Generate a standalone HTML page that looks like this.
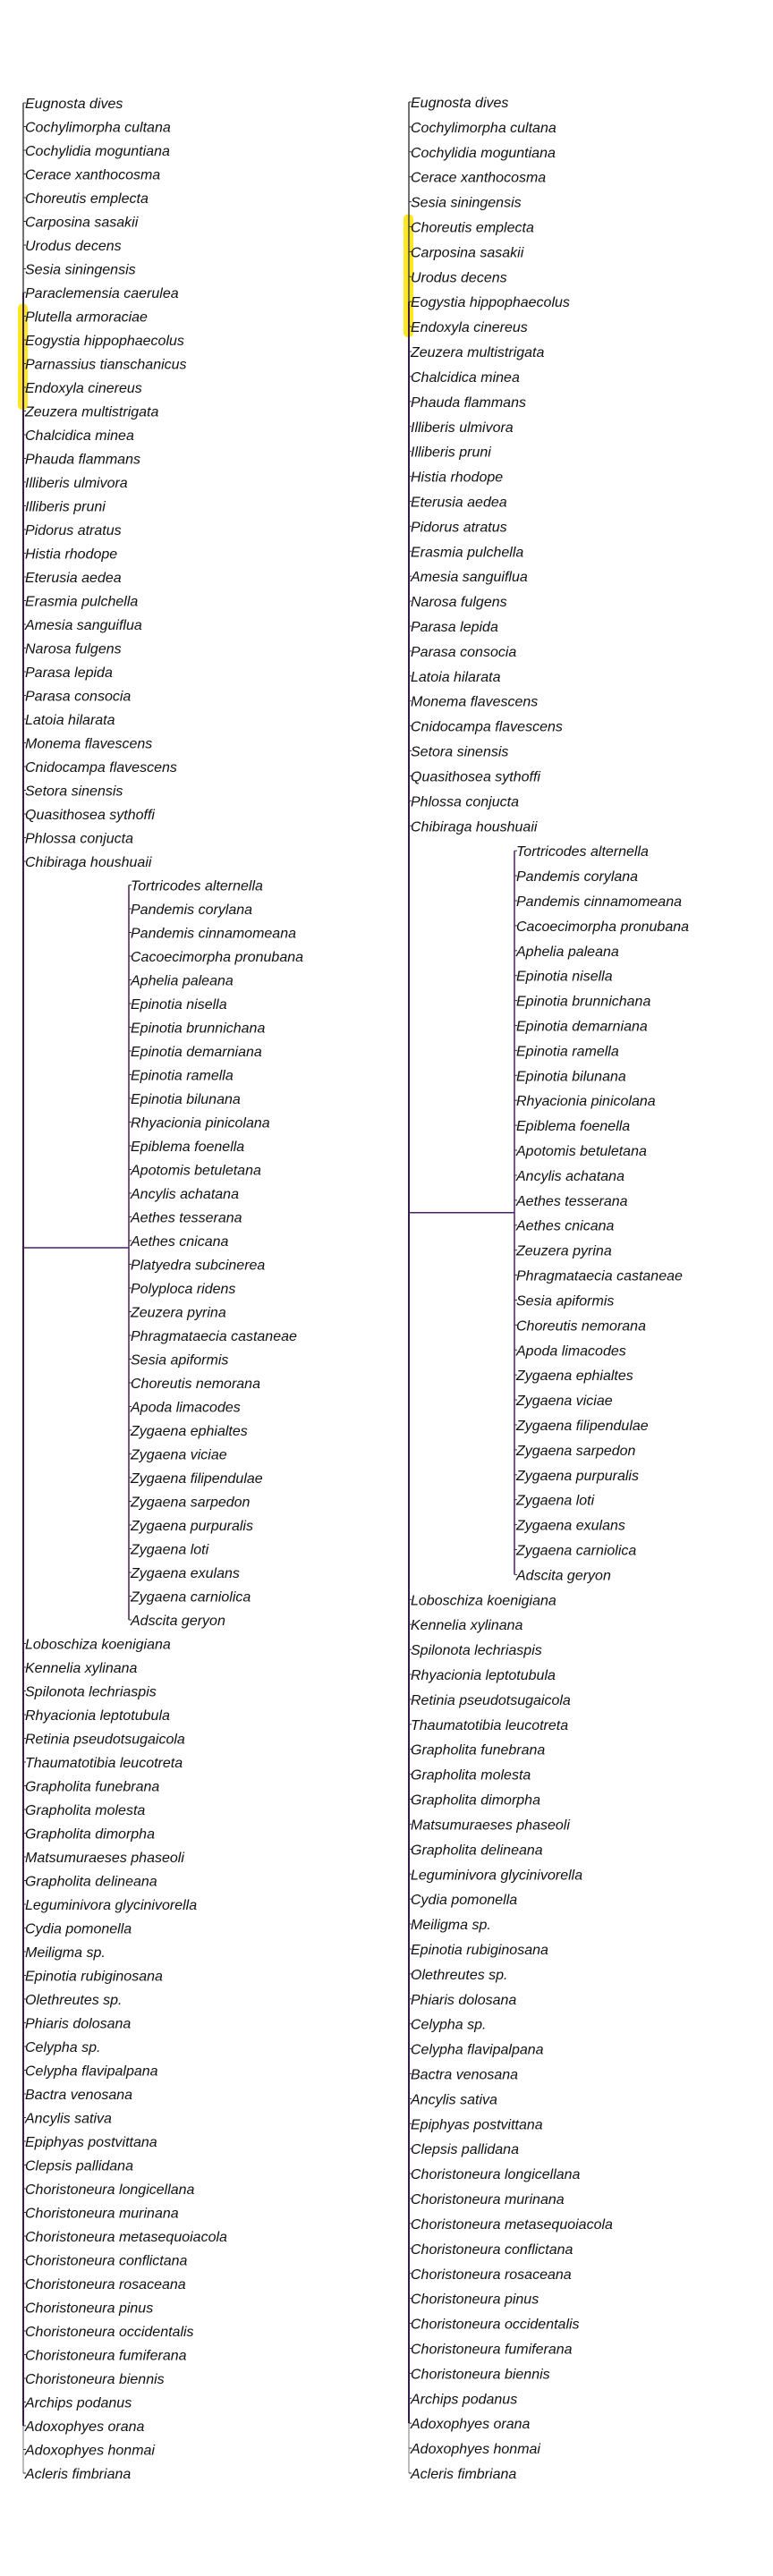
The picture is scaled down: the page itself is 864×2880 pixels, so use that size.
<!DOCTYPE html>
<html><head><meta charset="utf-8"><style>
html,body{margin:0;padding:0;background:#fff;}
svg{display:block;}
text{font-family:"Liberation Sans",sans-serif;font-style:italic;font-size:16px;fill:#111;}
</style></head><body>
<svg id="tree" width="864" height="2880" xmlns="http://www.w3.org/2000/svg"></svg>
<script>
const leftTop=["Eugnosta dives","Cochylimorpha cultana","Cochylidia moguntiana","Cerace xanthocosma","Choreutis emplecta","Carposina sasakii","Urodus decens","Sesia siningensis","Paraclemensia caerulea","Plutella armoraciae","Eogystia hippophaecolus","Parnassius tianschanicus","Endoxyla cinereus","Zeuzera multistrigata","Chalcidica minea","Phauda flammans","Illiberis ulmivora","Illiberis pruni","Pidorus atratus","Histia rhodope","Eterusia aedea","Erasmia pulchella","Amesia sanguiflua","Narosa fulgens","Parasa lepida","Parasa consocia","Latoia hilarata","Monema flavescens","Cnidocampa flavescens","Setora sinensis","Quasithosea sythoffi","Phlossa conjucta","Chibiraga houshuaii"];
const leftMid=["Tortricodes alternella","Pandemis corylana","Pandemis cinnamomeana","Cacoecimorpha pronubana","Aphelia paleana","Epinotia nisella","Epinotia brunnichana","Epinotia demarniana","Epinotia ramella","Epinotia bilunana","Rhyacionia pinicolana","Epiblema foenella","Apotomis betuletana","Ancylis achatana","Aethes tesserana","Aethes cnicana","Platyedra subcinerea","Polyploca ridens","Zeuzera pyrina","Phragmataecia castaneae","Sesia apiformis","Choreutis nemorana","Apoda limacodes","Zygaena ephialtes","Zygaena viciae","Zygaena filipendulae","Zygaena sarpedon","Zygaena purpuralis","Zygaena loti","Zygaena exulans","Zygaena carniolica","Adscita geryon"];
const bottom=["Loboschiza koenigiana","Kennelia xylinana","Spilonota lechriaspis","Rhyacionia leptotubula","Retinia pseudotsugaicola","Thaumatotibia leucotreta","Grapholita funebrana","Grapholita molesta","Grapholita dimorpha","Matsumuraeses phaseoli","Grapholita delineana","Leguminivora glycinivorella","Cydia pomonella","Meiligma sp.","Epinotia rubiginosana","Olethreutes sp.","Phiaris dolosana","Celypha sp.","Celypha flavipalpana","Bactra venosana","Ancylis sativa","Epiphyas postvittana","Clepsis pallidana","Choristoneura longicellana","Choristoneura murinana","Choristoneura metasequoiacola","Choristoneura conflictana","Choristoneura rosaceana","Choristoneura pinus","Choristoneura occidentalis","Choristoneura fumiferana","Choristoneura biennis","Archips podanus","Adoxophyes orana","Adoxophyes honmai","Acleris fimbriana"];
const rightTop=["Eugnosta dives","Cochylimorpha cultana","Cochylidia moguntiana","Cerace xanthocosma","Sesia siningensis","Choreutis emplecta","Carposina sasakii","Urodus decens","Eogystia hippophaecolus","Endoxyla cinereus","Zeuzera multistrigata","Chalcidica minea","Phauda flammans","Illiberis ulmivora","Illiberis pruni","Histia rhodope","Eterusia aedea","Pidorus atratus","Erasmia pulchella","Amesia sanguiflua","Narosa fulgens","Parasa lepida","Parasa consocia","Latoia hilarata","Monema flavescens","Cnidocampa flavescens","Setora sinensis","Quasithosea sythoffi","Phlossa conjucta","Chibiraga houshuaii"];
const rightMid=["Tortricodes alternella","Pandemis corylana","Pandemis cinnamomeana","Cacoecimorpha pronubana","Aphelia paleana","Epinotia nisella","Epinotia brunnichana","Epinotia demarniana","Epinotia ramella","Epinotia bilunana","Rhyacionia pinicolana","Epiblema foenella","Apotomis betuletana","Ancylis achatana","Aethes tesserana","Aethes cnicana","Zeuzera pyrina","Phragmataecia castaneae","Sesia apiformis","Choreutis nemorana","Apoda limacodes","Zygaena ephialtes","Zygaena viciae","Zygaena filipendulae","Zygaena sarpedon","Zygaena purpuralis","Zygaena loti","Zygaena exulans","Zygaena carniolica","Adscita geryon"];
// highlighted rows (start index, end index) per tree
const leftHighlight=[9,12.5];
const rightHighlight=[5,9];

const NS="http://www.w3.org/2000/svg";
const svg=document.getElementById('tree');
function mk(tag,attrs){const e=document.createElementNS(NS,tag);for(const k in attrs)e.setAttribute(k,attrs[k]);svg.appendChild(e);return e;}

function drawTree(cfg){
  const all=cfg.top.concat(cfg.mid,bottom);
  const n=all.length;
  const y=i=>cfg.y0+i*(cfg.y1-cfg.y0)/(n-1);
  const midStart=cfg.top.length, midEnd=cfg.top.length+cfg.mid.length-1;
  const h=mk('rect',{x:cfg.x0-6,y:y(cfg.hl[0])-14,width:11,height:y(cfg.hl[1])-y(cfg.hl[0])+26,rx:5,fill:'#fde725'});
  
  
  const v1=mk('line',{x1:cfg.x0,y1:y(0),x2:cfg.x0,y2:y(8),stroke:'#444',"stroke-width":1.5});
  
  
  const v2=mk('line',{x1:cfg.x0,y1:y(8),x2:cfg.x0,y2:y(n-3),stroke:'#3b1a4e',"stroke-width":2});
  
  
  const v3=mk('line',{x1:cfg.x0,y1:y(n-3),x2:cfg.x0,y2:y(n-1),stroke:'#777',"stroke-width":1});
  
  
  const sv=mk('line',{x1:cfg.x1,y1:y(midStart),x2:cfg.x1,y2:y(midEnd),stroke:'#4a2060',"stroke-width":1.5});
  
  
  const cy=y(midStart+cfg.conn);
  const sh=mk('line',{x1:cfg.x0,y1:cy,x2:cfg.x1,y2:cy,stroke:'#4a2060',"stroke-width":1.5});
  
  
  all.forEach((name,i)=>{
    const inMid=i>=midStart&&i<=midEnd;
    const x=inMid?cfg.x1:cfg.x0;
    const t=mk('line',{x1:x,y1:y(i),x2:x+3,y2:y(i),stroke:'#333',"stroke-width":1});
    
    
    const tx=mk('text',{x:x+2,y:y(i)+6});
    tx.textContent=name;
    
    
  });
}
drawTree({side:'left',top:leftTop,mid:leftMid,x0:26,x1:144,y0:115,y1:2765,conn:15.3,hl:leftHighlight});
drawTree({side:'right',top:rightTop,mid:rightMid,x0:457,x1:575,y0:114,y1:2765,conn:14.5,hl:rightHighlight});
</script>
</body></html>
